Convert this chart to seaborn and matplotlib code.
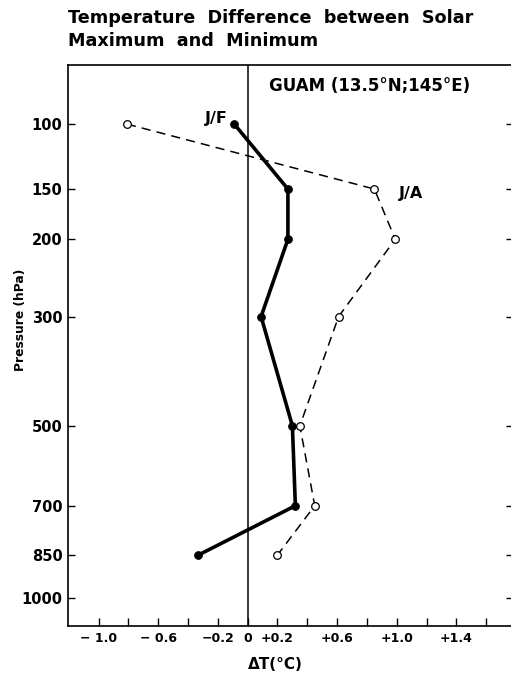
import numpy as np
import matplotlib
matplotlib.use("Agg")
import matplotlib.pyplot as plt
import seaborn as sns

# pressure levels (hPa) and temperature difference (deg C), solar max - min
pressure = [100, 150, 200, 300, 500, 700, 850]
dt_jf = [-0.09, 0.27, 0.27, 0.09, 0.30, 0.32, -0.33]
dt_ja = [-0.81, 0.85, 0.99, 0.61, 0.35, 0.45, 0.20]

p_ticks = [100, 150, 200, 300, 500, 700, 850, 1000]
x_ticks = [-1.0, -0.8, -0.6, -0.4, -0.2, 0.0, 0.2, 0.4, 0.6, 0.8, 1.0, 1.2, 1.4, 1.6]
x_labels = ["\u2212 1.0", "", "\u2212 0.6", "", "\u22120.2", "0", "+0.2", "",
            "+0.6", "", "+1.0", "", "+1.4", ""]

sns.set_style("ticks")
plt.rcParams["font.family"] = ["DejaVu Sans"]
plt.rcParams["font.weight"] = "bold"
for key in ["text.color", "axes.labelcolor", "xtick.color", "ytick.color"]:
    plt.rcParams[key] = "black"

fig = plt.figure(figsize=(5.11, 6.74), dpi=100)
ax = fig.add_axes([68 / 511, 1 - 626 / 674, 1.004 - 68 / 511, (626 - 65) / 674])

# axis roughly proportional to p**0.25
ax.set_yscale("function", functions=(lambda p: np.power(np.abs(p), 0.25),
                                     lambda v: np.power(np.abs(v), 4)))

ax.axvline(0, color="black", lw=1.1, zorder=1)

sns.lineplot(x=dt_jf, y=pressure, sort=False, orient="y", ax=ax,
             color="black", lw=2.6, marker="o", markersize=5.5,
             markeredgecolor="black", markerfacecolor="black")
sns.lineplot(x=dt_ja, y=pressure, sort=False, orient="y", ax=ax,
             color="black", lw=1.1, linestyle=(0, (6, 4)), marker="o",
             markersize=5.5, markeredgecolor="black", markerfacecolor="white",
             markeredgewidth=0.9)

ax.set_xlim(-1.205, 1.78)
ax.set_ylim(1107, 66.5)

ax.set_yticks(p_ticks)
ax.set_yticklabels([str(p) for p in p_ticks], fontsize=10.5, fontweight="bold")
ax.minorticks_off()
ax.set_xticks(x_ticks)
ax.set_xticklabels(x_labels, fontsize=9, fontweight="bold")

ax.tick_params(axis="y", direction="in", length=5, width=1, right=True, pad=4)
ax.tick_params(axis="x", direction="in", length=6, width=1, pad=4)

for s in ax.spines.values():
    s.set_linewidth(1.2)
    s.set_color("black")

ax.set_ylabel("Pressure (hPa)", fontsize=8.8, fontweight="bold")
ax.yaxis.set_label_coords(-0.0925, 0.545)
ax.set_xlabel("\u0394T(\u00b0C)", fontsize=11, fontweight="bold")
ax.xaxis.set_label_coords(0.465, -0.055)

ax.text(0.141, 77.3, "GUAM (13.5\u00b0N;145\u00b0E)",
        fontsize=12, fontweight="bold", ha="left", va="center")
ax.text(-0.135, 96.5, "J/F", fontsize=11.5, fontweight="bold", ha="right", va="center")
ax.text(1.017, 154, "J/A", fontsize=11.5, fontweight="bold", ha="left", va="center")

fig.text(68 / 511, 1 - 18 / 674, "Temperature  Difference  between  Solar",
         fontsize=12.7, fontweight="bold", ha="left", va="center")
fig.text(68 / 511, 1 - 41 / 674, "Maximum  and  Minimum",
         fontsize=12.7, fontweight="bold", ha="left", va="center")

fig.savefig("out.png", dpi=100)
